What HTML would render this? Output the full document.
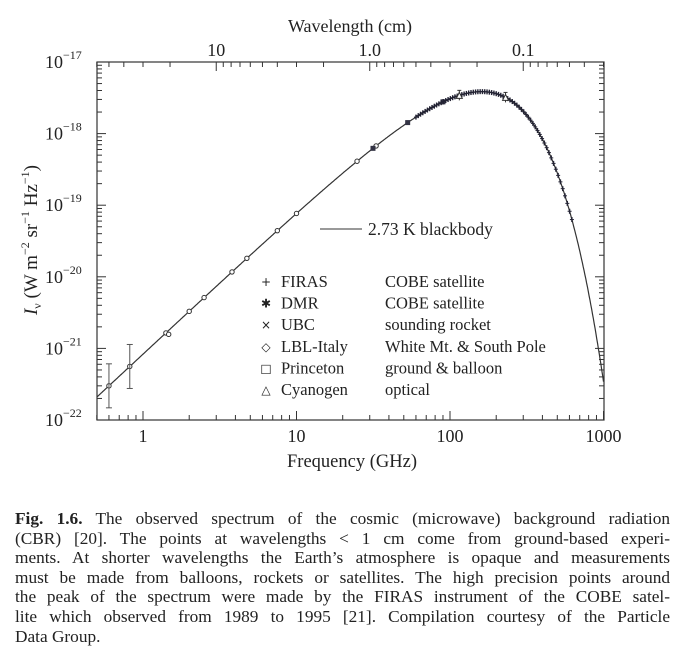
<!DOCTYPE html>
<html><head><meta charset="utf-8"><style>
body{margin:0;background:#fff;width:685px;height:660px;overflow:hidden;font-family:"Liberation Serif",serif;color:#222}
svg{position:absolute;left:0;top:0}
#cap{position:absolute;left:15px;top:509px;width:655px;font-size:17.3px;line-height:19.6px;color:#222}
#cap div{text-align:justify;text-align-last:justify;white-space:nowrap}
#cap div.l{text-align-last:left}
</style></head><body>
<svg id="s" width="685" height="500" xmlns="http://www.w3.org/2000/svg" font-family="Liberation Serif, serif" fill="#222"></svg>
<div id="cap">
<div><b>Fig. 1.6.</b> The observed spectrum of the cosmic (microwave) background radiation</div>
<div>(CBR) [20]. The points at wavelengths &lt; 1 cm come from ground-based experi-</div>
<div>ments. At shorter wavelengths the Earth’s atmosphere is opaque and measurements</div>
<div>must be made from balloons, rockets or satellites. The high precision points around</div>
<div>the peak of the spectrum were made by the FIRAS instrument of the COBE satel-</div>
<div>lite which observed from 1989 to 1995 [21]. Compilation courtesy of the Particle</div>
<div class="l">Data Group.</div>
</div>
<script>
const L=97,R=604,T=62,B=420;
const X=f=>143+Math.log10(f)*153.5;
const Y=v=>T+(-17-Math.log10(v))*(B-T)/5;
const I=f=>{const h=6.626e-34,c=3e8,k=1.381e-23,n=f*1e9;return 2*h*n*n*n/(c*c)/(Math.exp(h*n/(k*2.73))-1);};
let s='';
s+=`<rect x="${L}" y="${T}" width="${R-L}" height="${B-T}" fill="none" stroke="#333" stroke-width="1.2"/>`;
for(let d=-1;d<=2;d++)for(let m=1;m<10;m++){const f=m*Math.pow(10,d);if(f<0.5||f>1000)continue;const x=X(f);const len=m==1?9:5;s+=`<line x1="${x}" y1="${B}" x2="${x}" y2="${B-len}" stroke="#333"/>`;}
s+=`<line x1="${X(1000)}" y1="${B}" x2="${X(1000)}" y2="${B-9}" stroke="#333"/>`;
for(let d=-2;d<=2;d++)for(let m=1;m<10;m++){const l=m*Math.pow(10,d);const f=30/l;if(f<0.5||f>1000)continue;const x=X(f);const len=m==1?9:5;s+=`<line x1="${x}" y1="${T}" x2="${x}" y2="${T+len}" stroke="#333"/>`;}
for(let e=-22;e<=-17;e++){for(let m=1;m<10;m++){const v=m*Math.pow(10,e);if(v>1e-17)break;const y=Y(v);const len=m==1?9:5;s+=`<line x1="${L}" y1="${y}" x2="${L+len}" y2="${y}" stroke="#333"/><line x1="${R}" y1="${y}" x2="${R-len}" y2="${y}" stroke="#333"/>`;}
 const y=Y(Math.pow(10,e));s+=`<text x="45" y="${y+6}" font-size="18">10<tspan font-size="12" dy="-9">${'−'+(-e)}</tspan></text>`;}
[[1,'1'],[10,'10'],[100,'100'],[1000,'1000']].forEach(([f,t])=>s+=`<text x="${X(f)}" y="442" font-size="18" text-anchor="middle">${t}</text>`);
[[3,'10'],[30,'1.0'],[300,'0.1']].forEach(([f,t])=>s+=`<text x="${X(f)}" y="56" font-size="18" text-anchor="middle">${t}</text>`);
s+=`<text x="350" y="32" font-size="18" text-anchor="middle">Wavelength (cm)</text>`;
s+=`<text x="352" y="467" font-size="18.5" text-anchor="middle">Frequency (GHz)</text>`;
s+=`<text transform="translate(37,240) rotate(-90)" font-size="19" text-anchor="middle"><tspan font-style="italic">I</tspan><tspan font-size="12" dy="4">ν</tspan><tspan dy="-4">  (W m</tspan><tspan font-size="12" dy="-8">−2</tspan><tspan dy="8"> sr</tspan><tspan font-size="12" dy="-8">−1</tspan><tspan dy="8"> Hz</tspan><tspan font-size="12" dy="-8">−1</tspan><tspan dy="8">)</tspan></text>`;
let p='';for(let i=0;i<=600;i++){const lf=Math.log10(0.5)+i*(3-Math.log10(0.5))/600;const f=Math.pow(10,lf);let y=Y(I(f));if(y>B)y=B;p+=(i?'L':'M')+X(f).toFixed(1)+','+y.toFixed(1);}
s+=`<path d="${p}" fill="none" stroke="#333" stroke-width="1.2"/>`;
[[0.6,1],[0.82,1],[1.41,0],[1.47,0],[2,0],[2.5,0],[3.8,0],[4.75,0],[7.5,0],[10,0],[24.8,0],[33,0],[90,0]].forEach(([f,e])=>{const x=X(f),y=Y(I(f)*(f==1.47?0.88:1));s+=`<circle cx="${x}" cy="${y}" r="2.2" fill="#fff" stroke="#333"/>`;if(e){s+=`<line x1="${x}" y1="${y-22}" x2="${x}" y2="${y+22}" stroke="#555"/><line x1="${x-3}" y1="${y-22}" x2="${x+3}" y2="${y-22}" stroke="#555"/><line x1="${x-3}" y1="${y+22}" x2="${x+3}" y2="${y+22}" stroke="#555"/>`;}});
[31.5,53,90].forEach(f=>{const x=X(f),y=Y(I(f));s+=`<rect x="${x-2.5}" y="${y-2.5}" width="5" height="5" fill="#334" />`;});
for(let f=60;f<=640;f*=1.035){const x=X(f),y=Y(I(f));s+=`<line x1="${x-2}" y1="${y}" x2="${x+2}" y2="${y}" stroke="#223"/><line x1="${x}" y1="${y-2.5}" x2="${x}" y2="${y+2.5}" stroke="#223" stroke-width="1.4"/>`;}
[115,230].forEach(f=>{const x=X(f),y=Y(I(f));s+=`<line x1="${x}" y1="${y-5}" x2="${x}" y2="${y+5}" stroke="#333"/><line x1="${x-2}" y1="${y-5}" x2="${x+2}" y2="${y-5}" stroke="#333"/><path d="M${x-3},${y+3}L${x},${y-3}L${x+3},${y+3}Z" fill="#fff" stroke="#333"/>`;});
s+=`<line x1="320" y1="229" x2="362" y2="229" stroke="#333"/><text x="368" y="235" font-size="17.5">2.73 K  blackbody</text>`;
const rows=[['+','FIRAS','COBE satellite'],['✱','DMR','COBE satellite'],['×','UBC','sounding rocket'],['◇','LBL-Italy','White Mt. &amp; South Pole'],['□','Princeton','ground &amp; balloon'],['△','Cyanogen','optical']];
rows.forEach((r,i)=>{const y=287+i*21.6;s+=`<text x="266" y="${y-1}" font-size="12" text-anchor="middle" font-family="DejaVu Sans">${r[0]}</text><text x="281" y="${y}" font-size="16.5">${r[1]}</text><text x="385" y="${y}" font-size="16.5">${r[2]}</text>`;});
document.getElementById('s').innerHTML=s;
</script>
</body></html>
